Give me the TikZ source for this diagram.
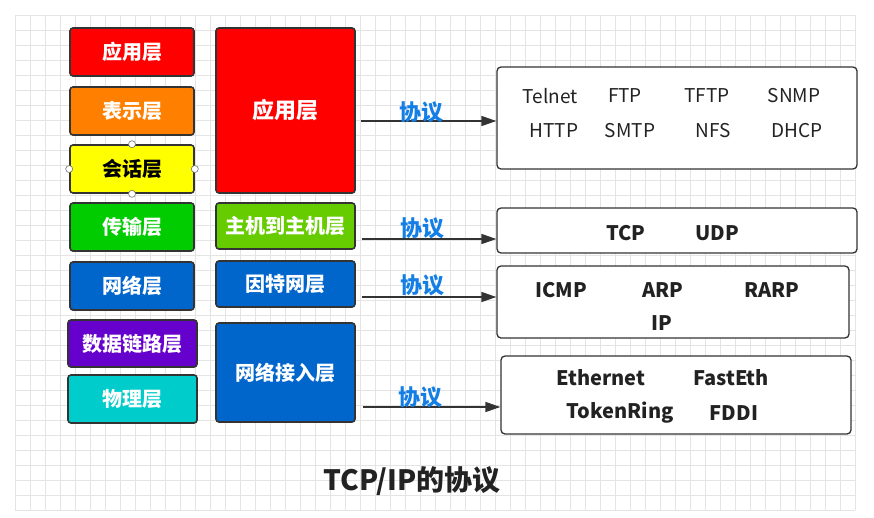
\documentclass[tikz,border=0pt]{standalone}
\usepackage{fontspec}
\setmainfont{Noto Sans CJK SC}
\usetikzlibrary{arrows.meta}

\begin{document}
\begin{tikzpicture}[x=1pt,y=-1pt,
  layer/.style={draw=cEdge, line width=1.6pt, rounded corners=3pt, inner sep=0pt,
    text=white, font=\bfseries\fontsize{20}{20}\selectfont},
  protobox/.style={draw=cEdge, line width=1.3pt, rounded corners=4pt, fill=white},
  proto/.style={text=cText, inner sep=0pt, font=\fontsize{19}{19}\selectfont},
  bproto/.style={proto, font=\bfseries\fontsize{20}{20}\selectfont},
  tag/.style={text=cTag, inner sep=0pt, font=\bfseries\fontsize{22}{22}\selectfont},
  handle/.style={circle, draw=black!55, fill=white, line width=0.6pt,
    inner sep=0pt, minimum size=7pt},
  link/.style={draw=cEdge, line width=1.5pt, -{Triangle[length=15pt,width=10pt]}}
]

  % Colours of the layers
  \definecolor{cRed}{RGB}{255,0,0}
  \definecolor{cOrange}{RGB}{255,128,0}
  \definecolor{cYellow}{RGB}{255,255,0}
  \definecolor{cGreen}{RGB}{0,204,0}
  \definecolor{cLime}{RGB}{102,204,0}
  \definecolor{cBlue}{RGB}{0,102,204}
  \definecolor{cPurple}{RGB}{102,0,204}
  \definecolor{cCyan}{RGB}{0,204,204}
  \definecolor{cEdge}{RGB}{51,51,51}
  \definecolor{cText}{RGB}{34,34,34}
  \definecolor{cTag}{RGB}{18,126,230}
  \definecolor{cGrid}{RGB}{228,228,228}

  \useasboundingbox (0,0) rectangle (874,517);
  \fill[white] (0,0) rectangle (874,517);

  % Background grid
  \draw[cGrid, line width=0.6pt] (15,15) grid[step=15pt] (855,510);

  % ---- OSI column (7 layers) ----
  \foreach \n/\y/\c/\t in {oApp/52/cRed/应用层, oPre/111/cOrange/表示层,
      oTra/227/cGreen/传输层, oNet/286/cBlue/网络层}
    \node[layer, fill=\c, minimum width=124pt, minimum height=48pt] (\n) at (132,\y) {\t};
  \node[layer, fill=cYellow, text=black, minimum width=124pt, minimum height=48pt]
    (oSes) at (132,169) {会话层};
  \node[layer, fill=cPurple, minimum width=129pt, minimum height=47pt]
    (oDat) at (132.5,343.5) {数据链路层};
  \node[layer, fill=cCyan, minimum width=129pt, minimum height=48pt]
    (oPhy) at (132.5,399) {物理层};

  % Selection handles on the session layer
  \foreach \a in {north,south,east,west}
    \node[handle] (h\a) at (oSes.\a) {};

  % ---- TCP/IP column (4 layers) ----
  \node[layer, fill=cRed, minimum width=139pt, minimum height=165pt,
    font=\bfseries\fontsize{22}{22}\selectfont] (tApp) at (285.5,110.5) {应用层};
  \node[layer, fill=cLime, minimum width=139pt, minimum height=46pt] (tHost) at (285.5,226) {主机到主机层};
  \node[layer, fill=cBlue, minimum width=139pt, minimum height=46pt] (tNet) at (285.5,284) {因特网层};
  \node[layer, fill=cBlue, minimum width=139pt, minimum height=99pt] (tAcc) at (285.5,372.5) {网络接入层};

  % ---- Protocol boxes ----
  \node[protobox, minimum width=360pt, minimum height=102pt] (pApp) at (677,118) {};
  \node[protobox, minimum width=360pt, minimum height=45pt] (pHost) at (677,230.5) {};
  \node[protobox, minimum width=352pt, minimum height=72pt] (pNet) at (673,302) {};
  \node[protobox, minimum width=350pt, minimum height=78pt] (pAcc) at (676,395) {};

  % Application protocols
  \foreach \n/\x/\y in {Telnet/550/96, FTP/625/96, TFTP/707/96, SNMP/794/96,
      HTTP/554/131, SMTP/630/131, NFS/713/131, DHCP/797/131}
    \node[proto] (\n) at (\x,\y) {\n};
  % Transport, internet and access protocols
  \foreach \n/\x/\y in {TCP/626/233, UDP/717/233,
      ICMP/561/290, ARP/663/290, RARP/772/290, IP/662/323,
      Ethernet/601/378, FastEth/731/378, TokenRing/620/413, FDDI/734/413}
    \node[bproto] (\n) at (\x,\y) {\n};

  % ---- Arrows, layer -> protocols ----
  \coordinate (a1) at ([xshift=5pt]tApp.east |- 0,121);
  \coordinate (a2) at ([xshift=6pt]tHost.east |- 0,239);
  \coordinate (a3) at ([xshift=6pt]tNet.east |- 0,297);
  \coordinate (a4) at ([xshift=7pt]tAcc.east |- 0,407);
  \draw[link] (a1) -- node[tag, pos=0.45, yshift=9pt] (k1) {协议} (a1 -| pApp.west);
  \draw[link] (a2) -- node[tag, pos=0.45, yshift=11pt] (k2) {协议} (a2 -| pHost.west);
  \draw[link] (a3) -- node[tag, pos=0.45, yshift=12pt] (k3) {协议} (a3 -| pNet.west);
  \draw[link] (a4) -- node[tag, pos=0.42, yshift=10pt] (k4) {协议} (a4 -| pAcc.west);

  % Caption
  \node[text=cText, inner sep=0pt, font=\bfseries\fontsize{28}{28}\selectfont]
    (title) at (412,481) {TCP/IP的协议};

\end{tikzpicture}
\end{document}
